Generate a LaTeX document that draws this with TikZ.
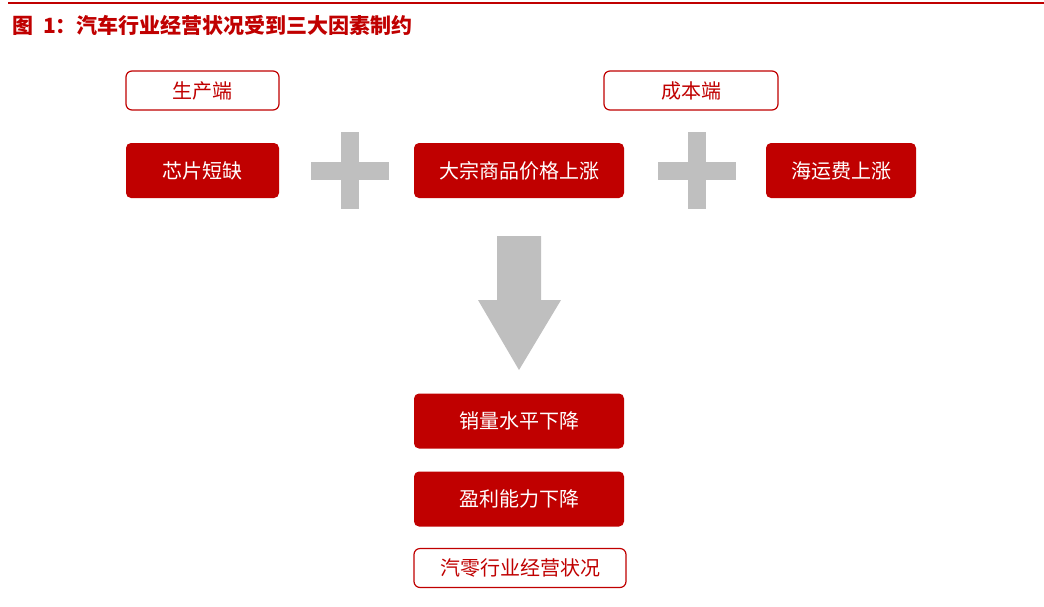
\documentclass[tikz,border=0pt]{standalone}
\usepackage{fontspec}
\setmainfont{Noto Sans CJK SC}
\usetikzlibrary{positioning}
\definecolor{myred}{HTML}{C00000}
\definecolor{mygray}{HTML}{BFBFBF}
\tikzset{
  fillbox/.style={fill=myred,rounded corners=5pt,text=white,font=\fontsize{20}{24}\selectfont,minimum height=55pt,inner sep=0pt},
  linebox/.style={draw=myred,line width=1.2pt,fill=white,rounded corners=6pt,text=myred,font=\fontsize{20}{24}\selectfont,minimum height=39pt,inner sep=0pt},
}
\begin{document}
\begin{tikzpicture}[x=1pt,y=-1pt]
\useasboundingbox (0,0) rectangle (1044,606);
\draw [myred,line width=2pt] (8,3) -- (1044,3);
\node [anchor=west,text=myred,font=\fontsize{21}{24}\selectfont\bfseries] (title) at (9,25) {图\ \ 1：汽车行业经营状况受到三大因素制约};
\node [linebox,minimum width=153pt] (prod) at (202.5,90.5) {生产端};
\node [linebox,minimum width=174pt] (cost) at (691,90.5) {成本端};
\node [fillbox,minimum width=153pt] (chip) at (202.5,170.5) {芯片短缺};
\node [fillbox,minimum width=210pt] (bulk) at (519,170.5) {大宗商品价格上涨};
\node [fillbox,minimum width=150pt] (ship) at (841,170.5) {海运费上涨};
% plus signs
\foreach \cx in {350,697}{
  \fill [mygray] (\cx-39,162) rectangle (\cx+39,180);
  \fill [mygray] (\cx-9,132) rectangle (\cx+9,209);
}
% down arrow
\fill [mygray] (497,236) -- (541,236) -- (541,300) -- (561,300) -- (519,370) -- (478,300) -- (497,300) -- cycle;
\node [fillbox,minimum width=210pt] (sales) at (519,421) {销量水平下降};
\node [fillbox,minimum width=210pt] (profit) at (519,499) {盈利能力下降};
\node [linebox,minimum width=212pt] (parts) at (520,568) {汽零行业经营状况};
\end{tikzpicture}
\end{document}
